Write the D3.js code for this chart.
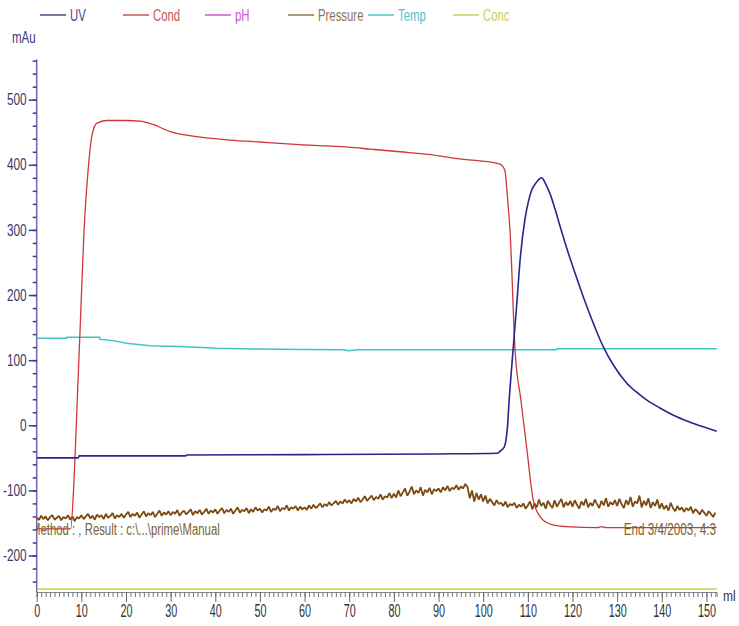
<!DOCTYPE html>
<html>
<head>
<meta charset="utf-8">
<script src="https://cdn.jsdelivr.net/npm/d3@7/dist/d3.min.js"></script>
<style>
  body { margin: 0; background: #fff; }
  svg { display: block; font-family: "Liberation Sans", Arial, sans-serif; }
</style>
</head>
<body>
<div id="chart"></div>
<script>
// series: [ml, value in display units]
const uvData = [[0,-50],[9.29,-50],[9.49,-47],[33.38,-47],[33.58,-45.6],[59.85,-45],[89.71,-44],[103.15,-43],[103.95,-39],[104.74,-33],[105.44,-2],[105.83,40],[106.33,85],[106.93,136],[107.53,187],[108.22,250],[109.32,315],[110.11,343],[110.81,360],[111.91,373],[112.7,379],[113.1,380],[113.5,377],[114.3,366],[115.0,355],[116.09,332],[117.2,306],[118.3,281],[119.47,256],[120.6,233],[122.8,190],[125.05,150],[126.93,120],[129.12,93],[132.11,65],[134.5,50],[136.59,39],[139.48,27],[143.36,13],[147.44,2],[152.3,-9]];

const condData = [[0,-159],[7.6,-159],[8.4,-79],[9.09,40],[9.69,142],[10.58,295],[11.58,397],[12.38,445],[13.47,464],[15.66,468],[20.04,468],[23.13,467],[26.01,462],[29.89,451],[34.97,444],[43.33,438],[49.9,435],[54.48,433],[58.86,431],[64.83,429],[69.8,427],[74.78,424],[81.35,420],[87.72,416],[94.79,409],[99.27,406],[103.75,401],[104.84,392],[105.44,350],[106.04,295],[107.13,116],[108.42,40],[109.72,-33],[111.21,-115],[112.7,-140],[114.1,-149],[115.59,-153],[119.57,-156],[125.54,-157],[126.54,-155.5],[127.53,-157],[152.3,-157]];

const tempData = [[0,133.6],[6.7,133.6],[6.8,135],[14.07,135],[14.17,132],[17.05,130],[20.14,126],[25.41,122],[33.58,120.7],[40.34,118.3],[49.3,117],[59.85,116.5],[68.81,116],[69.8,114.5],[71.8,116],[99.66,116],[116.39,116],[116.49,117.7],[152.3,117.7]];

// pressure, one reading every 0.5 ml
const pressureStep = 0.5;
const pressureVals = [
  -142,-145,-139,-144,-140,-146,-141,-138,-145,-142,-139,-146,-141,-143,-138,-145,-140,-147,-141,-143,
  -138,-144,-140,-136,-143,-139,-145,-137,-141,-138,-144,-136,-142,-139,-135,-143,-138,-141,-136,-142,
  -137,-133,-141,-136,-139,-134,-142,-137,-132,-140,-135,-138,-133,-141,-136,-131,-139,-134,-137,-132,
  -138,-133,-136,-130,-139,-134,-131,-137,-133,-129,-138,-132,-135,-130,-137,-133,-128,-136,-131,-134,
  -129,-136,-131,-127,-135,-130,-133,-128,-136,-131,-126,-134,-130,-132,-127,-135,-129,-133,-126,-131,
  -128,-134,-129,-131,-125,-133,-128,-130,-124,-132,-127,-129,-123,-131,-126,-128,-124,-131,-125,-129,
  -126,-130,-123,-128,-122,-127,-124,-120,-126,-121,-124,-118,-123,-120,-116,-122,-117,-120,-114,-119,
  -115,-120,-113,-117,-111,-118,-114,-109,-116,-112,-108,-115,-110,-113,-106,-114,-109,-111,-104,-112,
  -105,-111,-100,-109,-103,-97,-108,-102,-94,-106,-100,-104,-95,-108,-99,-103,-96,-106,-98,-101,
  -97,-103,-95,-100,-93,-101,-96,-98,-92,-99,-94,-97,-90,-95,-112,-100,-117,-104,-114,-106,
  -117,-108,-120,-113,-118,-123,-115,-121,-119,-124,-117,-126,-121,-123,-119,-127,-122,-125,-120,-128,
  -123,-117,-129,-120,-126,-114,-124,-119,-128,-116,-122,-127,-115,-125,-119,-113,-126,-118,-123,-116,
  -125,-115,-122,-128,-117,-123,-113,-126,-119,-124,-114,-121,-127,-116,-123,-112,-125,-118,-122,-115,
  -124,-113,-121,-127,-115,-122,-110,-125,-117,-120,-108,-126,-116,-123,-112,-127,-118,-124,-114,-128,
  -120,-129,-123,-131,-119,-127,-132,-124,-130,-126,-133,-127,-131,-125,-135,-129,-132,-137,-130,-134,
  -139,-132,-136,-141,-134];

const concData = [[0,0],[152.3,0]]; // % B

const seriesNames = ['UV', 'Cond', 'pH', 'Pressure', 'Temp', 'Conc'];
const seriesColors = ['#26268f', '#d03636', '#d040d0', '#7a4a12', '#40c4c4', '#c4d040'];
const legendColors = ['#4a4a8a', '#c05858', '#c858c8', '#8a7458', '#48c8c8', '#c8d060'];

const xDomain = [0, 152.3];
const yDomain = [-256, 560];
const xMajor = d3.range(0, 151, 10);
const xMinor = d3.range(0, 153, 1);
const yMajor = d3.range(-200, 501, 100);
const yMinor = d3.range(-240, 561, 20);

const width = 739, height = 626;
const margin = { top: 60.6, right: 22.3, bottom: 34, left: 36.7 };

// the original uses a narrow face: squeeze each text horizontally
function condense(sel, k) {
  sel.each(function() {
    const w = this.getComputedTextLength();
    d3.select(this).attr('textLength', w * k).attr('lengthAdjust', 'spacingAndGlyphs');
  });
}

const svg = d3.select('#chart').append('svg')
  .attr('width', width).attr('height', height);

const x = d3.scaleLinear().domain(xDomain).range([margin.left, width - margin.right]);
const y = d3.scaleLinear().domain(yDomain).range([height - margin.bottom, margin.top]);
const yConc = d3.scaleLinear().domain([0, 100]).range([y(-251.5), y(560)]);

svg.append('defs').append('clipPath').attr('id', 'plot')
  .append('rect')
  .attr('x', margin.left).attr('y', 0)
  .attr('width', width - margin.left - margin.right + 1).attr('height', height - margin.bottom);

// x axis
const xMinorAxis = svg.append('g')
  .attr('transform', `translate(0,${height - margin.bottom})`)
  .call(d3.axisBottom(x).tickValues(xMinor).tickSize(5).tickFormat(''));
xMinorAxis.selectAll('line').attr('stroke', '#777');
xMinorAxis.select('.domain').attr('stroke', '#888');

const xAxis = svg.append('g')
  .attr('transform', `translate(0,${height - margin.bottom})`)
  .call(d3.axisBottom(x).tickValues(xMajor).tickSize(10).tickPadding(2).tickFormat(d => String(d)));
xAxis.select('.domain').remove();
xAxis.selectAll('line').attr('stroke', '#666');
xAxis.selectAll('text').attr('fill', '#333').attr('font-size', 18).attr('font-family', null)
  .call(condense, 0.6);

svg.append('text')
  .attr('x', 723).attr('y', 601)
  .attr('fill', '#333').attr('font-size', 15)
  .text('ml').call(condense, 0.8);

// y axis
const yMinorAxis = svg.append('g')
  .attr('transform', `translate(${margin.left},0)`)
  .call(d3.axisLeft(y).tickValues(yMinor).tickSize(4).tickFormat(''));
yMinorAxis.selectAll('line').attr('stroke', '#3c3c90').attr('stroke-width', 1.5);
yMinorAxis.select('.domain').attr('stroke', '#6a6ab0').attr('stroke-width', 1.5)
  .attr('d', `M0,${y(yDomain[1]) - 1}V${height - margin.bottom}`);

const yAxis = svg.append('g')
  .attr('transform', `translate(${margin.left},0)`)
  .call(d3.axisLeft(y).tickValues(yMajor).tickSize(8).tickPadding(2).tickFormat(d => String(d)));
yAxis.select('.domain').remove();
yAxis.selectAll('line').attr('stroke', '#3c3c90').attr('stroke-width', 1.5);
yAxis.selectAll('text').attr('fill', '#3a3a6a').attr('font-size', 16).attr('font-family', null)
  .call(condense, 0.74);

svg.append('text')
  .attr('x', 12).attr('y', 43)
  .attr('fill', '#3a3a7a').attr('font-size', 16)
  .text('mAu').call(condense, 0.72);

// series
const plot = svg.append('g').attr('clip-path', 'url(#plot)');
const line = d3.line().x(d => x(d[0])).y(d => y(d[1]));
const smooth = d3.line().x(d => x(d[0])).y(d => y(d[1])).curve(d3.curveMonotoneX);

plot.append('path').datum(concData)
  .attr('fill', 'none').attr('stroke', seriesColors[5]).attr('stroke-width', 1.5)
  .attr('d', d3.line().x(d => x(d[0])).y(d => yConc(d[1])));

plot.append('path').datum(tempData)
  .attr('fill', 'none').attr('stroke', seriesColors[4]).attr('stroke-width', 1.5)
  .attr('d', line);

plot.append('path').datum(pressureVals.map((v, i) => [i * pressureStep, v]))
  .attr('fill', 'none').attr('stroke', seriesColors[3]).attr('stroke-width', 1.8)
  .attr('stroke-linejoin', 'bevel')
  .attr('d', line);

plot.append('path').datum(condData)
  .attr('fill', 'none').attr('stroke', seriesColors[1]).attr('stroke-width', 1.3)
  .attr('d', smooth);

plot.append('path').datum(uvData)
  .attr('fill', 'none').attr('stroke', seriesColors[0]).attr('stroke-width', 1.6)
  .attr('d', smooth);

// run info texts
plot.append('text')
  .attr('x', 31).attr('y', 535)
  .attr('fill', '#7a6430').attr('font-size', 16)
  .text('Method : , Result : c:\\...\\prime\\Manual').call(condense, 0.71);

svg.append('text')
  .attr('x', 716).attr('y', 535)
  .attr('text-anchor', 'end')
  .attr('fill', '#7a6430').attr('font-size', 16)
  .text('End 3/4/2003, 4:3').call(condense, 0.73);

// legend
const legendX = [40, 123, 205, 288, 368, 453];
const legend = svg.append('g').selectAll('g')
  .data(seriesNames).join('g')
  .attr('transform', (d, i) => `translate(${legendX[i]},0)`);
legend.append('line')
  .attr('x1', 0).attr('x2', 26).attr('y1', 15).attr('y2', 15)
  .attr('stroke', (d, i) => legendColors[i]).attr('stroke-width', 1.5);
legend.append('text')
  .attr('x', 30).attr('y', 21)
  .attr('font-size', 16)
  .attr('fill', (d, i) => legendColors[i])
  .text(d => d)
  .call(condense, 0.71);
</script>
</body>
</html>
